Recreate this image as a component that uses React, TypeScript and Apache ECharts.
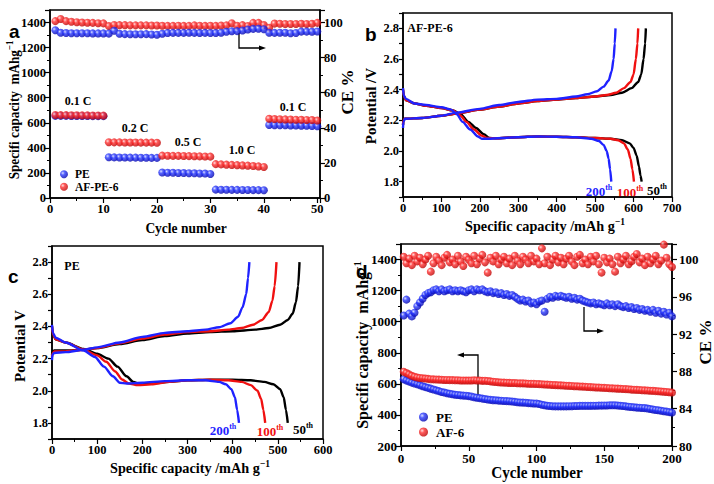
import React, { useEffect, useRef } from "react";
import * as echarts from "echarts";

// ---------- Panel a: rate capability (cycles 1..50) ----------
const cyclesA = [1,2,3,4,5,6,7,8,9,10,11,12,13,14,15,16,17,18,19,20,21,22,23,24,25,26,27,28,29,30,31,32,33,34,35,36,37,38,39,40,41,42,43,44,45,46,47,48,49,50];
const capPE_A = [655,655,655,654,654,654,654,653,653,653, 325,324,323,323,322,322,321,321,320,320, 203,202,201,200,199,198,197,196,195,192, 67,66,66,65,65,64,64,63,63,62, 582,581,580,580,579,578,577,576,574,572];
const capAF_A = [662,661,661,660,660,659,659,658,658,657, 445,444,444,443,443,443,442,442,442,441, 338,337,336,336,335,334,333,332,331,330, 270,268,266,264,262,260,258,255,252,248, 632,630,628,627,626,625,624,623,622,618];
const cePE_A = [95.6,94.2,94.0,93.9,93.9,93.9,93.9,93.8,93.8,93.8, 93.7,95.3,93.6,93.4,93.3,93.3,93.3,93.4,93.2,93.0, 93.6,94.0,94.1,94.1,94.1,94.2,94.1,94.0,94.1,94.0, 94.0,94.2,94.7,95.0,95.1,95.5,96.0,96.4,96.5,96.2, 94.2,94.1,94.2,94.2,93.9,94.0,94.8,94.8,94.7,94.9];
const ceAF_A = [100.8,102.0,100.8,100.4,100.2,100.0,99.9,99.8,99.6,99.5, 98.0,98.6,98.5,98.5,98.4,98.4,98.4,98.4,98.3,98.3, 98.2,98.1,98.1,98.2,98.1,98.1,98.4,98.2,98.1,98.2, 98.1,98.3,98.4,99.6,98.2,98.5,98.0,99.8,99.8,98.6, 97.0,99.4,99.3,99.2,99.2,99.2,99.3,99.2,99.3,99.8];
const rateLabels = ["0.1 C", "0.2 C", "0.5 C", "1.0 C", "0.1 C"];

// ---------- Panel b: AF-PE-6 charge/discharge profiles [capacity, V] ----------
const bDis50 = [[0,2.40],[2,2.36],[8,2.33],[30,2.31],[60,2.295],[100,2.28],[130,2.265],[150,2.24],[170,2.19],[190,2.15],[210,2.11],[225,2.085],[240,2.083],[300,2.09],[350,2.095],[400,2.093],[450,2.09],[500,2.085],[540,2.08],[570,2.07],[590,2.05],[600,2.02],[608,1.97],[614,1.90],[618,1.84],[621,1.80]];
const bDis100 = [[0,2.40],[2,2.36],[8,2.33],[30,2.31],[60,2.295],[100,2.28],[130,2.265],[150,2.23],[165,2.19],[185,2.14],[205,2.10],[218,2.085],[240,2.083],[300,2.09],[350,2.095],[400,2.093],[450,2.09],[500,2.085],[540,2.08],[560,2.07],[575,2.05],[585,2.01],[592,1.95],[597,1.88],[601,1.80]];
const bDis200 = [[0,2.41],[2,2.36],[8,2.34],[30,2.31],[60,2.30],[100,2.285],[125,2.27],[140,2.24],[155,2.19],[175,2.14],[195,2.095],[205,2.08],[220,2.08],[300,2.09],[350,2.095],[400,2.093],[450,2.09],[490,2.08],[510,2.065],[522,2.04],[530,2.0],[535,1.95],[539,1.88],[542,1.80]];
const bChg50 = [[0,2.17],[1,2.20],[5,2.21],[50,2.215],[100,2.23],[140,2.245],[200,2.27],[250,2.29],[300,2.31],[350,2.325],[400,2.335],[450,2.345],[500,2.355],[540,2.365],[570,2.38],[595,2.41],[612,2.45],[620,2.5],[626,2.6],[630,2.7],[632,2.8]];
const bChg100 = [[0,2.17],[1,2.20],[5,2.21],[50,2.215],[100,2.23],[140,2.245],[200,2.27],[250,2.29],[300,2.31],[350,2.325],[400,2.335],[450,2.345],[500,2.355],[530,2.365],[555,2.38],[575,2.41],[592,2.45],[600,2.5],[606,2.6],[610,2.7],[612,2.8]];
const bChg200 = [[0,2.15],[1,2.19],[5,2.21],[50,2.215],[100,2.23],[140,2.25],[200,2.275],[250,2.30],[300,2.32],[350,2.335],[400,2.34],[450,2.355],[480,2.37],[505,2.39],[522,2.42],[535,2.46],[543,2.52],[548,2.6],[551,2.7],[553,2.8]];

// ---------- Panel c: PE charge/discharge profiles ----------
const cDis50 = [[0,2.40],[2,2.35],[8,2.32],[30,2.30],[70,2.26],[100,2.23],[125,2.20],[145,2.15],[165,2.09],[180,2.055],[195,2.04],[220,2.045],[260,2.055],[300,2.065],[350,2.068],[400,2.068],[440,2.065],[470,2.055],[490,2.04],[505,2.01],[513,1.96],[518,1.88],[522,1.80]];
const cDis100 = [[0,2.40],[2,2.35],[8,2.32],[30,2.30],[70,2.255],[100,2.22],[120,2.18],[140,2.12],[155,2.07],[170,2.045],[190,2.035],[220,2.04],[260,2.055],[300,2.065],[350,2.068],[390,2.065],[420,2.055],[440,2.035],[455,2.0],[463,1.95],[468,1.88],[472,1.80]];
const cDis200 = [[0,2.41],[2,2.36],[8,2.33],[30,2.30],[70,2.25],[95,2.21],[115,2.15],[135,2.09],[150,2.05],[165,2.045],[200,2.05],[250,2.06],[300,2.065],[340,2.065],[370,2.055],[385,2.04],[397,2.01],[405,1.96],[410,1.88],[414,1.80]];
const cChg50 = [[0,2.22],[1,2.245],[5,2.25],[30,2.25],[70,2.255],[100,2.265],[150,2.29],[200,2.315],[250,2.34],[300,2.355],[350,2.365],[400,2.37],[450,2.38],[480,2.39],[505,2.41],[522,2.44],[533,2.48],[540,2.55],[545,2.65],[548,2.8]];
const cChg100 = [[0,2.21],[1,2.23],[5,2.245],[30,2.245],[70,2.255],[100,2.265],[150,2.295],[200,2.325],[250,2.35],[300,2.365],[350,2.37],[390,2.38],[420,2.39],[445,2.41],[465,2.44],[480,2.49],[488,2.56],[493,2.65],[497,2.8]];
const cChg200 = [[0,2.19],[1,2.225],[5,2.235],[30,2.24],[70,2.255],[100,2.27],[150,2.30],[200,2.335],[250,2.36],[300,2.37],[340,2.38],[370,2.395],[395,2.42],[412,2.46],[422,2.52],[430,2.6],[434,2.7],[437,2.8]];

// ---------- Panel d: long cycling (every 2nd cycle, 2..200) ----------
const cyclesD = [2,4,6,8,10,12,14,16,18,20,22,24,26,28,30,32,34,36,38,40,42,44,46,48,50,52,54,56,58,60,62,64,66,68,70,72,74,76,78,80,82,84,86,88,90,92,94,96,98,100,102,104,106,108,110,112,114,116,118,120,122,124,126,128,130,132,134,136,138,140,142,144,146,148,150,152,154,156,158,160,162,164,166,168,170,172,174,176,178,180,182,184,186,188,190,192,194,196,198,200];
const capPE_D = [630,622,615,608,602,597,591,585,579,574, 569,564,558,553,548,544,540,536,533,530, 528,526,524,523,521,518,514,511,508,505, 502,499,497,495,494,492,491,490,489,488, 486,484,482,480,479,478,476,475,474,473, 470,466,462,459,457,456,455,455,455,455, 455,456,456,457,457,458,458,458,458,458, 459,459,460,460,461,461,462,462,462,461, 459,457,455,453,451,449,447,446,445,444, 441,438,435,432,430,427,424,421,418,415];
const capAF_D = [678,670,661,652,646,641,638,636,634,632, 630,629,628,627,626,625,625,624,624,623, 623,622,622,621,621,622,623,622,621,619, 620,618,616,614,612,610,609,608,607,606, 605,605,604,603,603,602,601,600,600,599, 598,597,596,595,594,593,592,591,590,589, 588,587,586,585,584,583,582,581,580,579, 578,577,576,575,574,573,572,571,570,569, 568,567,566,565,563,562,561,560,559,558, 557,556,555,553,552,551,549,548,546,544];
const cePE_D = [94.0,95.7,94.2,93.9,94.3,95.0,95.4,95.8,96.2,96.4, 96.5,96.7,96.8,96.6,96.8,96.6,96.7,96.8,96.6,96.7, 96.6,96.7,96.6,96.5,96.7,96.8,96.6,96.8,96.7,96.8, 96.6,96.5,96.6,96.4,96.5,96.3,96.4,96.2,96.3,96.1, 96.2,96.0,95.8,95.6,95.7,95.5,95.6,95.3,95.4,95.2, 95.5,95.6,94.4,95.8,96.0,95.9,96.1,96.0,96.1,96.0, 95.9,96.0,95.8,95.9,95.7,95.8,95.6,95.5,95.4,95.3, 95.4,95.2,95.3,95.2,95.1,95.3,95.1,95.2,95.0,95.2, 95.0,94.9,95.0,94.8,94.9,94.7,94.8,94.6,94.7,94.5, 94.6,94.4,94.6,94.3,94.5,94.2,94.4,94.1,94.3,93.9];
const ceAF_D = [100.3,99.6,100.1,99.4,100.4,99.8,100.2,99.5,100.0,100.4, 98.7,99.6,100.3,99.9,99.4,100.2,100.5,99.7,100.0,99.5, 100.4,99.8,99.3,100.3,100.0,99.6,100.4,99.5,100.1,100.5, 99.7,98.6,100.2,99.8,100.4,99.5,100.0,100.3,99.6,100.1, 99.4,100.4,99.9,99.5,100.3,100.0,99.6,100.4,99.8,100.1, 99.5,101.2,99.6,100.3,99.4,100.0,100.4,99.7,100.2,99.5, 100.1,100.4,99.8,99.4,100.3,100.5,99.6,100.0,99.5,100.3, 99.8,100.4,99.5,98.6,100.2,99.7,100.1,99.5,98.7,100.3, 99.6,100.0,100.4,99.5,99.8,100.3,100.6,99.7,100.1,99.4, 100.3,99.6,100.0,100.4,99.5,99.9,101.6,100.2,99.5,99.2];

const FONT = '"Liberation Serif", "Times New Roman", serif';
const SANS = '"Liberation Sans", Arial, sans-serif';
const BLUE = "#1f22ff";
const RED = "#f01010";

const ballRed = { type: "radial", x: 0.35, y: 0.35, r: 0.7, colorStops: [
  { offset: 0, color: "#ffd6d6" }, { offset: 0.35, color: "#ff3030" }, { offset: 1, color: "#b80000" } ] };
const ballBlue = { type: "radial", x: 0.35, y: 0.35, r: 0.7, colorStops: [
  { offset: 0, color: "#d0d6ff" }, { offset: 0.35, color: "#2a3aff" }, { offset: 1, color: "#0000a8" } ] };

function pair(xs: number[], ys: number[]) {
  return xs.map((x, i) => [x, ys[i]]);
}

const labelBase = { color: "#000", fontFamily: FONT, fontWeight: "bold", fontSize: 12.5, margin: 4 };
const lineBase = { show: true, lineStyle: { color: "#000", width: 1.5 } };
const tickBase = { show: true, inside: false, length: 5, lineStyle: { color: "#000", width: 1.2 } };
const minorBase = { show: true, splitNumber: 2, length: 3, lineStyle: { color: "#000", width: 1 } };

function stepFmt(step: number) {
  return (v: number) => {
    const r = Math.round(v * 1000) / 1000;
    return Math.abs(r / step - Math.round(r / step)) < 1e-6 ? String(r) : "";
  };
}
function voltFmt(v: number) {
  const k = Math.round(v * 10);
  return k % 2 === 0 && k >= 18 && k <= 28 ? (k / 10).toFixed(1) : "";
}

function valAxis(gridIndex: number, min: number, max: number, interval: number, fmt: any, extra: any = {}) {
  return {
    type: "value", gridIndex, min, max, interval,
    axisLine: lineBase, axisTick: tickBase, minorTick: minorBase,
    splitLine: { show: false }, minorSplitLine: { show: false },
    axisLabel: { ...labelBase, formatter: fmt, ...(extra.axisLabel || {}) },
    ...Object.fromEntries(Object.entries(extra).filter(([k]) => k !== "axisLabel")),
  };
}

function scatter(name: string, xi: number, yi: number, data: any, color: any, size = 8) {
  return { type: "scatter", name, xAxisIndex: xi, yAxisIndex: yi, data, symbol: "circle", symbolSize: size, itemStyle: { color }, silent: true };
}
function curve(name: string, xi: number, yi: number, data: any, color: string) {
  return { type: "line", name, xAxisIndex: xi, yAxisIndex: yi, data, showSymbol: false, symbol: "none", smooth: 0.25, smoothMonotone: "x", lineStyle: { color, width: 2.4 }, silent: true };
}

function txt(x: number, y: number, text: string, opts: any = {}) {
  return {
    type: "text", x, y, rotation: opts.rotation || 0, scaleX: opts.sx || 1, silent: true,
    style: {
      text, fill: opts.color || "#000", font: opts.font || `bold 15px ${FONT}`,
      align: opts.align || "center", verticalAlign: opts.va || "middle", rich: opts.rich,
    },
  };
}
const supRich = (size: number, color = "#000") => ({
  sup: { fontSize: size, fontWeight: "bold", fontFamily: FONT, fill: color, color, padding: [0, 0, size * 0.9, 0] },
});
function cycleLabel(x: number, y: number, num: string, color: string) {
  return {
    type: "text", x, y, silent: true,
    style: {
      text: `${num}{sup|th}`, fill: color, font: `bold 13px ${FONT}`, align: "center", verticalAlign: "middle",
      rich: { sup: { fontSize: 8, fontWeight: "bold", fontFamily: FONT, fill: color, padding: [0, 0, 7, 0] } },
    },
  };
}
function elbowArrow(points: number[][], head: number[][]) {
  return [
    { type: "polyline", silent: true, shape: { points }, style: { stroke: "#000", lineWidth: 1.3, fill: "none" } },
    { type: "polygon", silent: true, shape: { points: head }, style: { fill: "#000" } },
  ];
}

const option: any = {
  animation: false,
  backgroundColor: "#fff",
  grid: [
    { left: 50, top: 10, width: 270, height: 188, show: true, borderColor: "#000", borderWidth: 1.5, backgroundColor: "transparent" },
    { left: 403, top: 13, width: 269, height: 184, show: true, borderColor: "#000", borderWidth: 1.5, backgroundColor: "transparent" },
    { left: 52, top: 246, width: 271, height: 193, show: true, borderColor: "#000", borderWidth: 1.5, backgroundColor: "transparent" },
    { left: 401, top: 244, width: 271, height: 202, show: true, borderColor: "#000", borderWidth: 1.5, backgroundColor: "transparent" },
  ],
  xAxis: [
    valAxis(0, 0, 50.5, 10, stepFmt(10)),
    valAxis(1, 0, 700, 100, stepFmt(100)),
    valAxis(2, 0, 600, 100, stepFmt(100)),
    valAxis(3, 0, 200, 50, stepFmt(50), { axisLabel: { fontSize: 13, margin: 6 } }),
  ],
  yAxis: [
    valAxis(0, 0, 1500, 200, stepFmt(200)),
    valAxis(0, 0, 1500 / 14, 20, stepFmt(20), { position: "right" }),
    valAxis(1, 1.7, 2.9, 0.1, voltFmt, { minorTick: { show: false }, axisTick: { ...tickBase, length: 4 } }),
    valAxis(2, 1.7, 2.9, 0.1, voltFmt, { minorTick: { show: false }, axisTick: { ...tickBase, length: 4 } }),
    valAxis(3, 200, 1500, 200, stepFmt(200), { axisLabel: { fontSize: 13 } }),
    valAxis(3, 80, 80 + 1300 / 60, 4, stepFmt(4), { position: "right", axisLabel: { fontSize: 13, margin: 7 } }),
  ],
  legend: [
    {
      data: ["PE", "AF-PE-6"], left: 60, top: 168, padding: 0, orient: "vertical", itemGap: 0, itemWidth: 8, itemHeight: 8,
      icon: "circle", selectedMode: false,
      textStyle: { fontFamily: FONT, fontWeight: "bold", fontSize: 11.5, lineHeight: 12.5, color: "#000", padding: [0, 0, 0, 2] },
    },
    {
      data: ["PE", "AF-6"], left: 419, top: 410, padding: 0, orient: "vertical", itemGap: 1, itemWidth: 9, itemHeight: 9,
      icon: "circle", selectedMode: false,
      textStyle: { fontFamily: FONT, fontWeight: "bold", fontSize: 13, lineHeight: 14, color: "#000", padding: [0, 0, 0, 3] },
    },
  ],
  series: [
    // panel a
    scatter("PE", 0, 0, pair(cyclesA, capPE_A), ballBlue),
    scatter("AF-PE-6", 0, 0, pair(cyclesA, capAF_A), ballRed),
    scatter("AF-PE-6", 0, 1, pair(cyclesA, ceAF_A), ballRed),
    scatter("PE", 0, 1, pair(cyclesA, cePE_A), ballBlue),
    // panel b
    curve("b50", 1, 2, bDis50, "#000"), curve("b50c", 1, 2, bChg50, "#000"),
    curve("b100", 1, 2, bDis100, RED), curve("b100c", 1, 2, bChg100, RED),
    curve("b200", 1, 2, bDis200, BLUE), curve("b200c", 1, 2, bChg200, BLUE),
    // panel c
    curve("c50", 2, 3, cDis50, "#000"), curve("c50c", 2, 3, cChg50, "#000"),
    curve("c100", 2, 3, cDis100, RED), curve("c100c", 2, 3, cChg100, RED),
    curve("c200", 2, 3, cDis200, BLUE), curve("c200c", 2, 3, cChg200, BLUE),
    // panel d
    scatter("PE", 3, 4, pair(cyclesD, capPE_D), ballBlue),
    scatter("AF-6", 3, 4, pair(cyclesD, capAF_D), ballRed),
    scatter("AF-6", 3, 5, pair(cyclesD, ceAF_D), ballRed),
    scatter("PE", 3, 5, pair(cyclesD, cePE_D), ballBlue),
  ],
  graphic: [
    // panel letters
    txt(9, 22, "a", { font: `bold 19px ${SANS}`, align: "left", va: "alphabetic" }),
    txt(365, 25, "b", { font: `bold 19px ${SANS}`, align: "left", va: "alphabetic" }),
    txt(8, 267, "c", { font: `bold 19px ${SANS}`, align: "left", va: "alphabetic" }),
    txt(356, 262, "d", { font: `bold 19px ${SANS}`, align: "left", va: "alphabetic" }),
    // axis titles
    txt(14, 110, "Specifi capacity  mAhg{sup|−1}", { rich: supRich(10), rotation: Math.PI / 2, sx: 0.88 }),
    txt(347, 92, "CE %", { font: `bold 17px ${FONT}`, rotation: Math.PI / 2 }),
    txt(186, 228, "Cycle number", { font: `bold 15px ${FONT}`, sx: 0.9 }),
    txt(371, 106, "Potential /V", { rotation: Math.PI / 2 }),
    txt(545, 226, "Specific capacity /mAh g{sup|−1}", { rich: supRich(10), sx: 0.95 }),
    txt(20, 346, "Potential V", { rotation: Math.PI / 2 }),
    txt(190, 468, "Specific capacity /mAh g{sup|−1}", { rich: supRich(10), sx: 0.95 }),
    txt(362, 345, "Specifi capacity  mAhg{sup|−1}", { font: `bold 16px ${FONT}`, rich: supRich(10), rotation: Math.PI / 2 }),
    txt(705, 342, "CE %", { font: `bold 17px ${FONT}`, rotation: Math.PI / 2 }),
    txt(537, 472, "Cycle number", { font: `bold 16.5px ${FONT}`, sx: 0.92 }),
    // panel a rate labels
    txt(78, 101, rateLabels[0], { font: `bold 12px ${FONT}` }),
    txt(135, 128, rateLabels[1], { font: `bold 12px ${FONT}` }),
    txt(188, 142, rateLabels[2], { font: `bold 12px ${FONT}` }),
    txt(242, 150, rateLabels[3], { font: `bold 12px ${FONT}` }),
    txt(293, 107, rateLabels[4], { font: `bold 12px ${FONT}` }),
    // in-panel labels
    txt(430, 28, "AF-PE-6", { font: `bold 12px ${FONT}` }),
    txt(72, 266, "PE", { font: `bold 12px ${FONT}` }),
    cycleLabel(599, 191, "200", BLUE),
    cycleLabel(630, 192, "100", RED),
    cycleLabel(657, 190, "50", "#000"),
    cycleLabel(223, 430, "200", BLUE),
    cycleLabel(270, 431, "100", RED),
    cycleLabel(303, 429, "50", "#000"),
    // arrows
    ...elbowArrow([[239, 33], [239, 48], [262, 48]], [[266, 48], [259, 45.5], [259, 50.5]]),
    ...elbowArrow([[478, 395], [478, 355], [461, 355]], [[457, 355], [464, 352.5], [464, 357.5]]),
    ...elbowArrow([[584, 307], [584, 331], [600, 331]], [[604, 331], [597, 328.5], [597, 333.5]]),
  ],
};

export default function App() {
  const ref = useRef<HTMLDivElement>(null);
  useEffect(() => {
    if (!ref.current) return;
    const chart = echarts.init(ref.current, null, { renderer: "svg" });
    chart.setOption(option);
    return () => chart.dispose();
  }, []);
  return (
    <div
      ref={ref}
      style={{ position: "fixed", left: 0, top: 0, width: 714, height: 484, background: "#fff" }}
    />
  );
}
